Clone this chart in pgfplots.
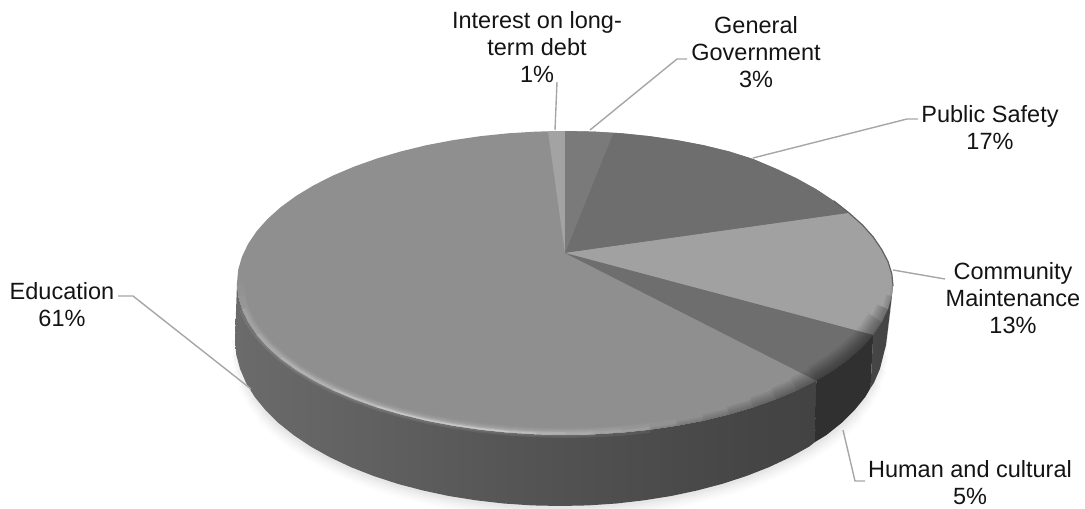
\documentclass[border=0pt]{standalone}
\usepackage{fontspec}
\setmainfont{Liberation Sans}
\usepackage{pgfplots}
\usepackage{pgfplotstable}
\pgfplotsset{compat=1.18}

% Outer wall shadings, left to right
\pgfdeclarehorizontalshading{wallEducation}{100bp}{
  color(0bp)=(black!42); color(8bp)=(black!48); color(25bp)=(black!58);
  color(50bp)=(black!67); color(70bp)=(black!73); color(90bp)=(black!76);
  color(100bp)=(black!78)}
\pgfdeclarehorizontalshading{wallHuman}{100bp}{
  color(0bp)=(black!81); color(100bp)=(black!81)}
\pgfdeclarehorizontalshading{wallCommunity}{100bp}{
  color(0bp)=(black!72); color(100bp)=(black!74)}

% Rim of the top face: angle, x, y
\pgfplotstableread{
t x y
0 893 286
5 891.8 273.7
10 888 261.6
15 881.8 249.7
20 873.2 237
25 862.3 224.8
30 849.1 213
35 833.7 200.8
40 816.3 189.3
45 796.9 178.5
50 775.8 168.6
55 753.1 159
60 729 151.4
65 703.6 145.2
70 677.2 140.2
75 649.9 136.2
80 621.9 133.3
85 593.6 131.6
90 565 131
95 536.4 131.6
100 508.1 133.3
105 480.1 136.2
110 452.8 140.2
115 426.4 145.2
120 401 151.4
125 376.9 158.5
130 354.2 166.6
135 333.1 175.5
140 313.7 185.3
145 296.3 195.8
150 280.9 207
155 267.7 218.8
160 256.8 231
165 248.2 243.7
170 242 256.6
175 238.2 269.7
180 237 283
185 238.2 296.3
190 242 309.4
195 248.2 322.3
200 256.8 335
205 267.7 347.2
210 280.9 359
215 296.3 370.2
220 313.7 380.7
225 333.1 390.5
230 354.2 399.4
235 376.9 407.5
240 401 414.6
245 426.4 420.8
250 452.8 425.8
255 480.1 429.8
260 508.1 432.7
265 536.4 434.4
270 565 435
275 593.6 434.4
280 621.9 432.7
285 649.9 429.8
290 677.2 425.8
295 703.6 420.8
300 729 414.6
305 753.1 407.5
310 775.8 399.4
315 796.9 390.5
320 816.3 380.7
325 833.7 370.2
330 849.1 359
335 862.3 347.2
340 873.2 335
345 881.8 322.3
350 888 309.4
355 891.8 296.3
360 893 286
}\rim

% Lower edge of the wall
\pgfplotstableread{
t x y
180 235 340
185 236.2 354.5
190 240 368.8
195 246.1 383
200 254.6 396.8
205 265.5 410.2
210 278.5 423
215 293.8 435.2
220 311 446.7
225 330.2 457.4
230 351.1 467.2
235 373.6 476
240 397.5 483.8
245 422.6 490.4
250 448.8 496
255 475.9 500.3
260 503.6 503.5
265 531.7 505.4
270 560 506
275 588.3 505.4
280 616.4 503.5
285 644.1 500.3
290 671.2 496
295 697.4 490.4
300 722.5 483.8
305 746.4 476
310 768.9 467.2
315 789.8 457.4
320 809 446.7
325 826.2 435.2
330 841.5 423
335 854.5 410.2
340 865.4 396.8
345 873.9 383
350 880 368.8
355 883.8 354.5
360 885 340
}\base

\definecolor{leader}{gray}{0.65}
\tikzset{
  lab/.style={font=\fontsize{23.5}{27}\selectfont, align=center, text=black!92, inner sep=0pt},
  lead/.style={draw=leader, line width=1.4pt},
}
% one stroke along part of the rim: colour, opacity, width, angle range
\newcommand{\rimstroke}[4]{%
  \addplot[draw=#1, opacity=#2, line width=#3pt, restrict expr to domain={\thisrow{t}}{#4}] table[x=x,y=y] {\rim};}
% one stroke along part of the lower edge, for the ground shadow
\newcommand{\groundstroke}[3]{%
  \addplot[draw=black, opacity=#1, line width=#2pt, restrict expr to domain={\thisrow{t}}{#3}] table[x=x,y=y] {\base};}
\begin{document}
\begin{tikzpicture}
\path[use as bounding box] (0,0) rectangle (1085pt,509pt);
\begin{axis}[
  at={(0,0)}, anchor=south west,
  scale only axis, width=1085pt, height=509pt,
  xmin=0, xmax=1085, ymin=0, ymax=509, y dir=reverse,
  hide axis, clip=false,
  every axis plot/.append style={mark=none, line join=round},
]
% Education: the whole top face, the other slices lie over it
\addplot[fill=black!44, draw=none] table[x=x,y=y] {\rim} -- cycle;

% Interest on long-term debt, 1%
\addplot[fill=black!36, draw=none] coordinates {(565,253) (548,131.2) (565,131)} -- cycle;
% General Government, 3%
\addplot[fill=black!52, draw=none] coordinates {(565,253) (565,131) (593.6,131.6) (613.5,132.8)} -- cycle;
% Public Safety, 17%
\addplot[fill=black!57, draw=none] coordinates {(565,253) (613.5,132.8) (621.9,133.3) (649.9,136.2) (677.2,140.2) (703.6,145.2) (729,151.4) (753.1,159) (775.8,168.6) (796.9,178.5) (816.3,189.3) (833.7,200.8) (849.1,213)} -- cycle;
% Community Maintenance, 13%
\addplot[fill=black!37, draw=none] coordinates {(565,253) (849.1,213) (862.3,224.8) (873.2,237) (881.8,249.7) (888,261.6) (891.8,273.7) (893,286) (891.8,296.3) (888,309.4) (881.8,322.3) (873.2,335)} -- cycle;
% Human and cultural, 5%
\addplot[fill=black!57, draw=none] coordinates {(565,253) (873.2,335) (862.3,347.2) (849.1,359) (833.7,370.2) (816.3,380.7)} -- cycle;

% bevel along the front of the top face: dark towards the right
\rimstroke{black}{0.06}{4}{285:360}
\rimstroke{black}{0.06}{8}{290:358}
\rimstroke{black}{0.06}{12}{295:356}
\rimstroke{black}{0.06}{16}{300:354}
\rimstroke{black}{0.06}{20}{305:352}
\rimstroke{black}{0.06}{24}{310:350}
\rimstroke{black}{0.05}{28}{315:348}
\rimstroke{black}{0.05}{32}{320:346}
% and light towards the left
\rimstroke{white}{0.03}{14}{180:290}
\rimstroke{white}{0.04}{12}{185:285}
\rimstroke{white}{0.05}{10}{190:280}
\rimstroke{white}{0.06}{8}{200:275}
\rimstroke{white}{0.08}{6}{210:270}
\rimstroke{white}{0.14}{4}{225:265}
\rimstroke{white}{0.18}{3}{235:260}

% keeps the bevel strokes inside the outline on the right
\addplot[fill=white, draw=none] coordinates {(893.5,286) (889.5,320) (886.5,345) (880.5,369) (873,385) (915,385) (925,345) (925,286)} -- cycle;

% soft ground shadow
\groundstroke{0.010}{26}{205:335}
\groundstroke{0.012}{22}{200:340}
\groundstroke{0.014}{18}{195:345}
\groundstroke{0.016}{14}{190:350}
\groundstroke{0.018}{10}{185:355}
\groundstroke{0.022}{6}{180:360}

% outer wall, one piece per visible slice
\addplot[shade, shading=wallEducation, draw=none] coordinates {
 (237,283) (238.2,296.3) (242,309.4) (248.2,322.3) (256.8,335) (267.7,347.2) (280.9,359) (296.3,370.2) (313.7,380.7) (333.1,390.5) (354.2,399.4) (376.9,407.5) (401,414.6) (426.4,420.8) (452.8,425.8) (480.1,429.8) (508.1,432.7) (536.4,434.4) (565,435) (593.6,434.4) (621.9,432.7) (649.9,429.8) (677.2,425.8) (703.6,420.8) (729,414.6) (753.1,407.5) (775.8,399.4) (796.9,390.5) (816.3,380.7)
 (815,442) (809,446.7) (789.8,457.4) (768.9,467.2) (746.4,476) (722.5,483.8) (697.4,490.4) (671.2,496) (644.1,500.3) (616.4,503.5) (588.3,505.4) (560,506) (531.7,505.4) (503.6,503.5) (475.9,500.3) (448.8,496) (422.6,490.4) (397.5,483.8) (373.6,476) (351.1,467.2) (330.2,457.4) (311,446.7) (293.8,435.2) (278.5,423) (265.5,410.2) (254.6,396.8) (246.1,383) (240,368.8) (236.2,354.5) (235,340)} -- cycle;
\addplot[shade, shading=wallHuman, draw=none] coordinates {
 (816.3,380.7) (833.7,370.2) (849.1,359) (862.3,347.2) (873.2,335) (870.5,388) (865.4,396.8) (854.5,410.2) (841.5,423) (826.2,435.2) (815,442)} -- cycle;
\addplot[shade, shading=wallCommunity, draw=none] coordinates {
 (873.2,335) (881.8,322.3) (888,309.4) (891.8,296.3) (893,286) (889,320) (886,345) (880,368.8) (873.9,383) (870.5,388)} -- cycle;

% softens the join of wall and top face on the lit side
\rimstroke{white}{0.07}{6}{190:285}
\rimstroke{white}{0.08}{3}{200:275}

% dark line on the right of the rim
\rimstroke{black!62}{1}{1.2}{0:35}

% leader lines
\addplot[lead] coordinates {(557,82) (555,130)};
\addplot[lead] coordinates {(687,59) (677,59) (590,130)};
\addplot[lead] coordinates {(918,119) (907,119) (753,158)};
\addplot[lead] coordinates {(893,270) (945,279)};
\addplot[lead] coordinates {(843,430) (855,481) (865,481)};
\addplot[lead] coordinates {(118,296) (133,296) (251,389)};

% slice labels
\node[lab] at (axis cs:537,47) {Interest on long-\\term debt\\1\%};
\node[lab] at (axis cs:756,52.5) {General\\Government\\3\%};
\node[lab] at (axis cs:990,127.5) {Public Safety\\17\%};
\node[lab] at (axis cs:1013,298) {Community\\Maintenance\\13\%};
\node[lab] at (axis cs:970,482.5) {Human and cultural\\5\%};
\node[lab] at (axis cs:62,305) {Education\\61\%};
\end{axis}
\end{tikzpicture}
\end{document}
